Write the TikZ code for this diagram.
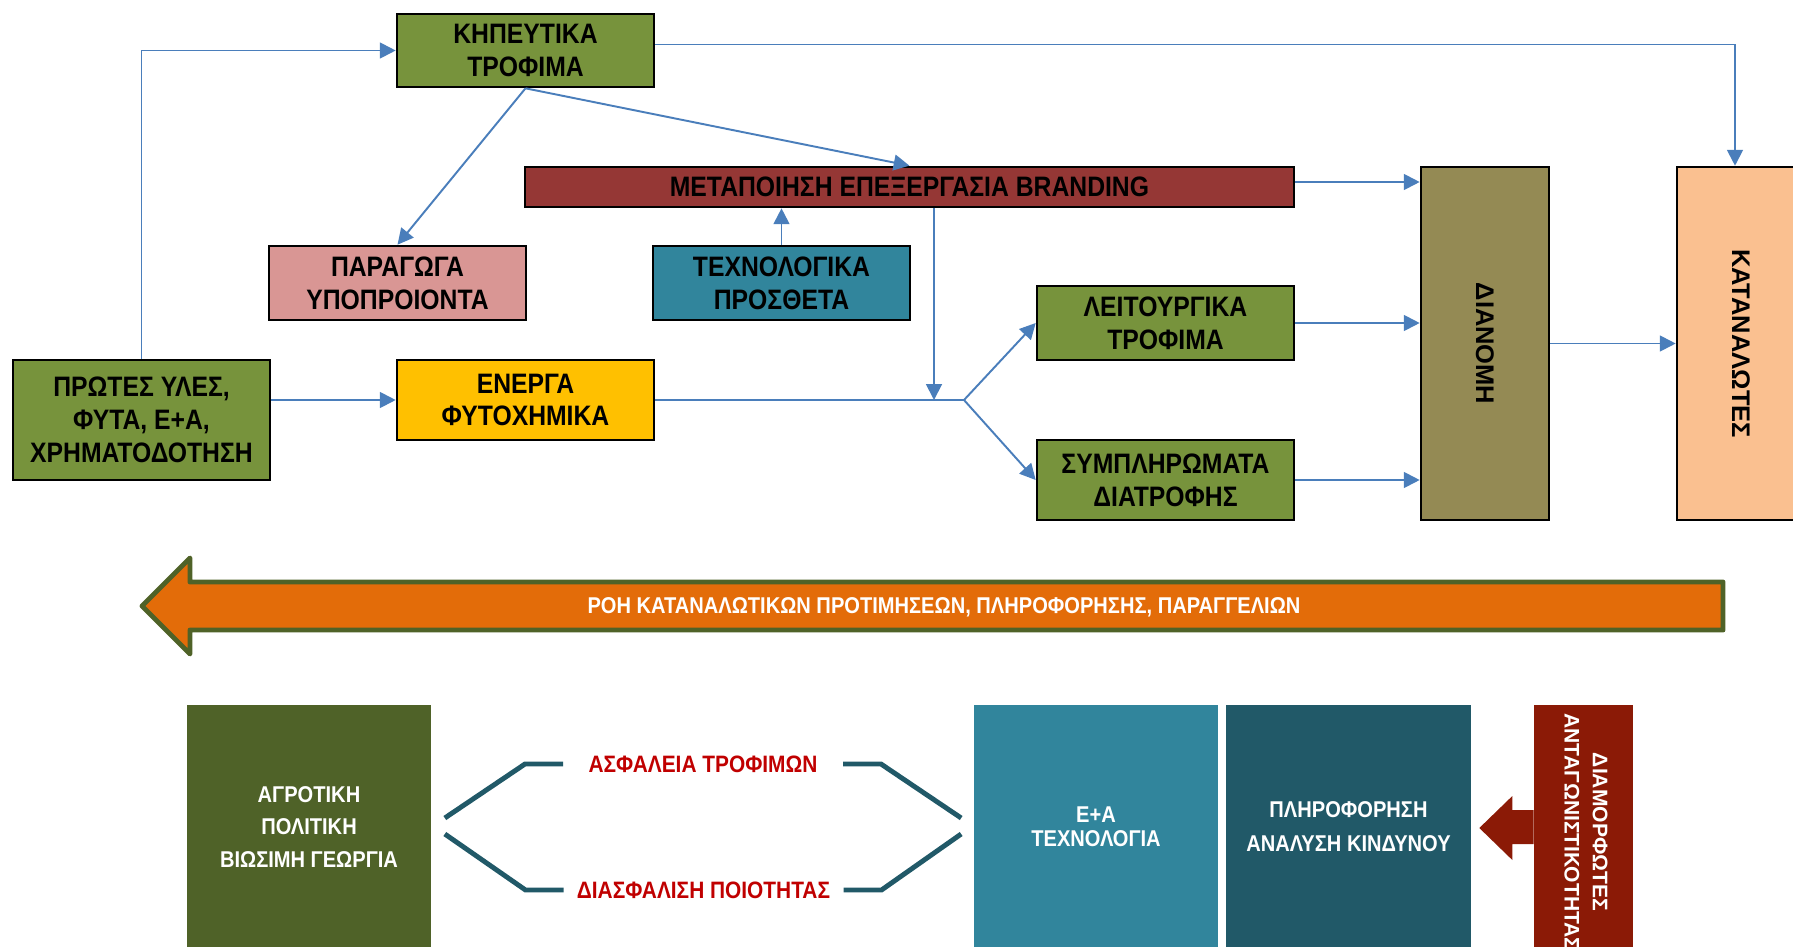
\documentclass[tikz,border=0pt]{standalone}
\usepackage{fontspec}
\setmainfont{Liberation Sans}
\newfontfamily\narrowfont[FakeStretch=0.88]{Liberation Sans}
\usetikzlibrary{arrows.meta,calc}
\definecolor{veggreen}{HTML}{77933C}
\definecolor{brandred}{HTML}{953735}
\definecolor{bypink}{HTML}{D99694}
\definecolor{techteal}{HTML}{31859C}
\definecolor{activeyellow}{HTML}{FFC000}
\definecolor{distolive}{HTML}{948A54}
\definecolor{consumerpeach}{HTML}{FAC090}
\definecolor{arrowblue}{HTML}{4A7EBB}
\definecolor{floworange}{HTML}{E36C09}
\definecolor{policygreen}{HTML}{4F6228}
\definecolor{infoteal}{HTML}{215968}
\definecolor{compred}{HTML}{8B1A06}
\definecolor{safered}{HTML}{C00000}

\begin{document}
\begin{tikzpicture}[
  x=0.02cm, y=-0.02cm,
  box/.style={draw, line width=1.5pt, minimum width=5.14cm, minimum height=1.48cm, align=center, inner sep=1pt, font=\narrowfont\bfseries\fontsize{16}{18.7}\selectfont},
  column/.style={draw, line width=1.5pt, rotate=-90, minimum width=7.06cm, minimum height=2.56cm, font=\bfseries\fontsize{14.5}{17}\selectfont},
  tile/.style={minimum width=4.9cm, minimum height=4.9cm, align=center, text=white, inner sep=0pt, font=\narrowfont\bfseries\fontsize{13}{18.7}\selectfont},
  link/.style={line width=1.1pt, arrowblue},
  arrow/.style={link, -{Triangle[length=9pt,width=9pt]}},
  bracket/.style={line width=2.8pt, infoteal},
  safety/.style={text=safered, font=\narrowfont\bfseries\fontsize{13.5}{16}\selectfont},
]
\useasboundingbox (0,0) rectangle (1793,947);
\clip (0,0) rectangle (1793,947);

% Supply chain boxes
\node[box, fill=veggreen, minimum height=1.46cm] (kipeutika) at (525.5,50.5) {ΚΗΠΕΥΤΙΚΑ\\ΤΡΟΦΙΜΑ};
\node[box, fill=brandred, minimum width=15.38cm, minimum height=0.8cm] (metapoiisi) at (909.5,187) {ΜΕΤΑΠΟΙΗΣΗ ΕΠΕΞΕΡΓΑΣΙΑ BRANDING};
\node[box, fill=bypink] (paragoga) at (397.5,283) {ΠΑΡΑΓΩΓΑ\\ΥΠΟΠΡΟΙΟΝΤΑ};
\node[box, fill=techteal] (texnologika) at (781.5,283) {ΤΕΧΝΟΛΟΓΙΚΑ\\ΠΡΟΣΘΕΤΑ};
\node[box, fill=veggreen] (leitourgika) at (1165.5,323) {ΛΕΙΤΟΥΡΓΙΚΑ\\ΤΡΟΦΙΜΑ};
\node[box, fill=veggreen, minimum height=2.4cm] (protes) at (141.5,420) {ΠΡΩΤΕΣ ΥΛΕΣ,\\ΦΥΤΑ, Ε+Α,\\ΧΡΗΜΑΤΟΔΟΤΗΣΗ};
\node[box, fill=activeyellow, minimum height=1.6cm] (energa) at (525.5,400) {ΕΝΕΡΓΑ\\ΦΥΤΟΧΗΜΙΚΑ};
\node[box, fill=veggreen, minimum height=1.6cm] (sympl) at (1165.5,480) {ΣΥΜΠΛΗΡΩΜΑΤΑ\\ΔΙΑΤΡΟΦΗΣ};
\node[column, fill=distolive] (dianomi) at (1485,343.5) {ΔΙΑΝΟΜΗ};
\node[column, fill=consumerpeach] (katanalotes) at (1741,343.5) {ΚΑΤΑΝΑΛΩΤΕΣ};
\coordinate (drop) at (934,400);
\coordinate (branch) at (964,400);

% Connectors
\draw[arrow] (protes.north) |- (kipeutika.west);
\draw[arrow] ($(kipeutika.east)+(0,-6)$) -| ($(katanalotes.west)+(-6,0)$);
\draw[arrow] (kipeutika.south) -- (paragoga.north);
\draw[arrow] (kipeutika.south) -- (metapoiisi.north);
\draw[arrow] (texnologika.north) -- (texnologika.north |- metapoiisi.south);
\draw[arrow] (protes.east |- energa.west) -- (energa.west);
\draw[link] (energa.east) -- (branch);
\draw[arrow] (metapoiisi.south -| drop) -- (drop);
\draw[arrow] (branch) -- (leitourgika.west);
\draw[arrow] (branch) -- (sympl.west);
\draw[arrow] ($(metapoiisi.east)+(0,-5)$) -- ($(metapoiisi.east -| dianomi.south)+(0,-5)$);
\draw[arrow] (leitourgika.east) -- (leitourgika.east -| dianomi.south);
\draw[arrow] (sympl.east) -- (sympl.east -| dianomi.south);
\draw[arrow] (dianomi.north) -- (dianomi.north -| katanalotes.south);

% Backward flow arrow
\draw[policygreen, line width=2.8pt, line join=round, fill=floworange] (142,606) -- (190,558) -- (190,582) -- (1723,582) -- (1723,630) -- (190,630) -- (190,654) -- cycle;
\node[text=white, font=\narrowfont\bfseries\fontsize{13}{16}\selectfont] (roi) at (944,607) {ΡΟΗ ΚΑΤΑΝΑΛΩΤΙΚΩΝ ΠΡΟΤΙΜΗΣΕΩΝ, ΠΛΗΡΟΦΟΡΗΣΗΣ, ΠΑΡΑΓΓΕΛΙΩΝ};

% Framework tiles
\node[tile, fill=policygreen] (agrotiki) at (309,827) {ΑΓΡΟΤΙΚΗ\\ΠΟΛΙΤΙΚΗ\\ΒΙΩΣΙΜΗ ΓΕΩΡΓΙΑ};
\node[tile, fill=techteal, font=\narrowfont\bfseries\fontsize{13}{13.5}\selectfont] (erevna) at (1096,827) {Ε+Α\\ΤΕΧΝΟΛΟΓΙΑ};
\node[tile, fill=infoteal, font=\narrowfont\bfseries\fontsize{13}{19.3}\selectfont] (plirof) at (1348.5,827) {ΠΛΗΡΟΦΟΡΗΣΗ\\ΑΝΑΛΥΣΗ ΚΙΝΔΥΝΟΥ};
\node[fill=compred, minimum width=1.98cm, minimum height=4.9cm] (diamorf) at (1583.5,827) {};
\node[rotate=-90, text=white, align=center, font=\bfseries\fontsize{12}{16}\selectfont] (diamtext) at (1586,832) {ΔΙΑΜΟΡΦΩΤΕΣ\\ΑΝΤΑΓΩΝΙΣΤΙΚΟΤΗΤΑΣ};
\fill[compred] ($(plirof.east)+(8,1)$) -- ++(33,-32) -- ++(0,14) -- ($(diamorf.west)+(0,-17)$) -- ($(diamorf.west)+(0,17)$) -- ($(plirof.east)+(41,17)$) -- ++(0,16) -- cycle;

% Safety and quality
\node[safety] (asfaleia) at (703,764) {ΑΣΦΑΛΕΙΑ ΤΡΟΦΙΜΩΝ};
\node[safety] (diasfalisi) at (703.5,890) {ΔΙΑΣΦΑΛΙΣΗ ΠΟΙΟΤΗΤΑΣ};
\draw[bracket] ($(asfaleia.center)+(-140,0)$) -- ($(asfaleia.center)+(-178,0)$) -- ($(agrotiki.east)+(13,-9)$);
\draw[bracket] ($(diasfalisi.center)+(-140,0)$) -- ($(diasfalisi.center)+(-178,0)$) -- ($(agrotiki.east)+(13,7)$);
\draw[bracket] ($(asfaleia.center)+(140,0)$) -- ($(asfaleia.center)+(178,0)$) -- ($(erevna.west)+(-12,-9)$);
\draw[bracket] ($(diasfalisi.center)+(140,0)$) -- ($(diasfalisi.center)+(178,0)$) -- ($(erevna.west)+(-12,7)$);

\end{tikzpicture}
\end{document}
